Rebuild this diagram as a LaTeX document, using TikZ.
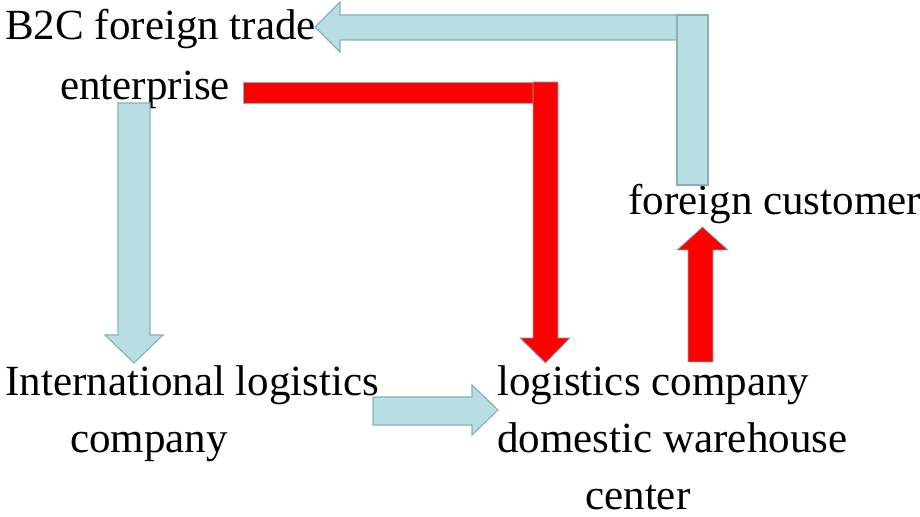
\documentclass[tikz,border=0pt]{standalone}
\usepackage{fontspec}
\setmainfont{Liberation Serif}
\definecolor{flowcyan}{RGB}{183,222,226}
\definecolor{flowedge}{RGB}{138,176,180}
\begin{document}
\begin{tikzpicture}[x=0.025cm,y=-0.025cm,
	lbl/.style={anchor=base west, inner sep=0pt, font=\fontsize{30.6}{36}\selectfont},
	cyanarrow/.style={fill=flowcyan, draw=flowedge, line width=0.8pt},
	redarrow/.style={fill=red, draw=flowedge, line width=0.6pt}]
			\useasboundingbox (0,0) rectangle (920,517);
			
			% Labels
			\node[lbl] (b2c) at (5,40) {B2C foreign trade};
			\node[lbl] (ent) at (60,100) {enterprise};
			\node[lbl] (cust) at (628,215) {foreign customer};
			\node[lbl] (intl) at (5,395) {International logistics};
			\node[lbl] (intlb) at (70,452) {company};
			\node[lbl] (dom) at (497,395) {logistics company};
			\node[lbl] (domb) at (497,452) {domestic warehouse};
			\node[lbl] (domc) at (585,509) {center};
			
			% foreign customer -> enterprise
			\draw[cyanarrow] (708,15) -- (340,15) -- (340,2) -- (315,27) -- (340,52) -- (340,40) -- (708,40) -- cycle;
			\draw[cyanarrow] (677,15) rectangle (708,185);
			
			% enterprise -> warehouse
			\draw[redarrow] (243,82) rectangle (533,103);
			\draw[redarrow] (533,82) -- (558,82) -- (558,338) -- (570,338) -- (545.5,363) -- (520,338) -- (533,338) -- cycle;
			
			% enterprise -> international logistics
			\draw[cyanarrow] (118,103) -- (150,103) -- (150,335) -- (163,335) -- (134,363) -- (105,335) -- (118,335) -- cycle;
			
			% international logistics -> warehouse
			\draw[cyanarrow] (373,397) -- (472,397) -- (472,385) -- (498,410) -- (472,435) -- (472,425) -- (373,425) -- cycle;
			
			% warehouse -> foreign customer
			\draw[redarrow] (688,362) -- (688,250) -- (677,250) -- (702.5,227) -- (728,250) -- (713,250) -- (713,362) -- cycle;
\end{tikzpicture}
\end{document}
